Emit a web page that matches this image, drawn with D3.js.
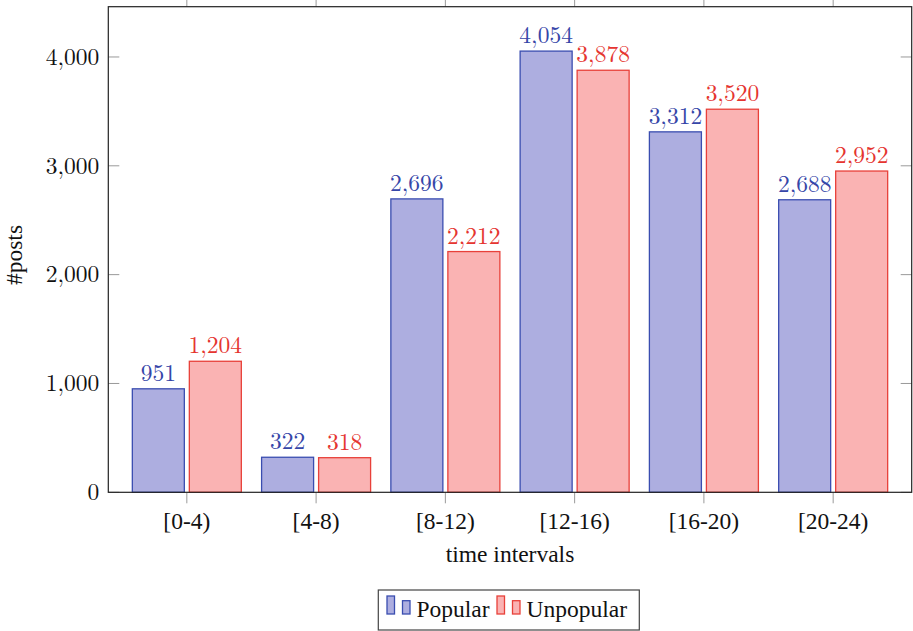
<!DOCTYPE html>
<html>
<head>
<meta charset="utf-8">
<script src="https://cdn.jsdelivr.net/npm/d3@7"></script>
</head>
<body style="margin:0;background:#fff">
<svg id="chart" width="913" height="631" style="display:block"></svg>
<script>
// ---- data ----
const categories = ["[0-4)", "[4-8)", "[8-12)", "[12-16)", "[16-20)", "[20-24)"];
const popular = [951, 322, 2696, 4054, 3312, 2688];
const unpopular = [1204, 318, 2212, 3878, 3520, 2952];
const seriesNames = ["Popular", "Unpopular"];
const yTicks = [0, 1000, 2000, 3000, 4000];
const xLabel = "time intervals";
const yLabel = "#posts";

// ---- layout ----
const plot = { left: 108.3, right: 911.7, top: 6.7, bottom: 492.3 };
const yMax = 4462;
const numFont = "'Latin Modern Roman', 'Liberation Serif', serif";
const txtFont = "'Liberation Serif', 'Times New Roman', Tinos, Times, serif";
const numSize = 23.5;
const txtSize = 23.5;

const colors = {
  Popular:   { fill: "#adaee0", stroke: "#3a4db0", text: "#3646a8" },
  Unpopular: { fill: "#fab3b3", stroke: "#e8413a", text: "#e53530" }
};

const svg = d3.select("#chart");

const x = d3.scaleLinear()
  .domain([-0.6075, categories.length - 1 + 0.6075])
  .range([plot.left, plot.right]);
const y = d3.scaleLinear().domain([0, yMax]).range([plot.bottom, plot.top]);

const barW = 52;
const barOff = 28.5;

const fmt = d3.format(",");

const tickColor = "#9a9a9a";
const gT = svg.append("g");
yTicks.forEach(v => {
  gT.append("line").attr("x1", plot.left).attr("x2", plot.left + 11)
    .attr("y1", y(v)).attr("y2", y(v)).attr("stroke", tickColor).attr("stroke-width", 1);
  gT.append("line").attr("x1", plot.right - 11).attr("x2", plot.right)
    .attr("y1", y(v)).attr("y2", y(v)).attr("stroke", tickColor).attr("stroke-width", 1);
});
categories.forEach((c, i) => {
  gT.append("line").attr("x1", x(i)).attr("x2", x(i))
    .attr("y1", plot.bottom).attr("y2", plot.bottom + 11).attr("stroke", tickColor).attr("stroke-width", 1);
  gT.append("line").attr("x1", x(i)).attr("x2", x(i))
    .attr("y1", plot.top - 11).attr("y2", plot.top).attr("stroke", tickColor).attr("stroke-width", 1);
});

const series = [
  { name: "Popular", values: popular, dir: -1 },
  { name: "Unpopular", values: unpopular, dir: 1 }
];
series.forEach(s => {
  const g = svg.append("g");
  s.values.forEach((v, i) => {
    const cx = x(i) + s.dir * barOff;
    g.append("rect")
      .attr("x", cx - barW / 2).attr("width", barW)
      .attr("y", y(v)).attr("height", y(0) - y(v))
      .attr("fill", colors[s.name].fill)
      .attr("stroke", colors[s.name].stroke).attr("stroke-width", 1.3);
    g.append("text")
      .attr("x", cx).attr("y", y(v) - 8)
      .attr("text-anchor", "middle")
      .style("font-family", numFont)
      .style("font-size", numSize + "px")
      .attr("fill", colors[s.name].text)
      .text(fmt(v));
  });
});

svg.append("rect")
  .attr("x", plot.left).attr("y", plot.top)
  .attr("width", plot.right - plot.left).attr("height", plot.bottom - plot.top)
  .attr("fill", "none").attr("stroke", "#222").attr("stroke-width", 1.2);

yTicks.forEach(v => {
  svg.append("text")
    .attr("x", plot.left - 9).attr("y", y(v)).attr("dy", "0.33em")
    .attr("text-anchor", "end")
    .style("font-family", numFont).style("font-size", numSize + "px")
    .attr("fill", "#111")
    .text(fmt(v));
});
categories.forEach((c, i) => {
  svg.append("text")
    .attr("x", x(i)).attr("y", 529)
    .attr("text-anchor", "middle")
    .style("font-family", txtFont).style("font-size", txtSize + "px")
    .attr("fill", "#111")
    .text(c);
});
svg.append("text")
  .attr("x", (plot.left + plot.right) / 2).attr("y", 562)
  .attr("text-anchor", "middle")
  .style("font-family", txtFont).style("font-size", txtSize + "px")
  .attr("fill", "#111")
  .text(xLabel);
svg.append("text")
  .attr("transform", `translate(22,255) rotate(-90)`)
  .attr("text-anchor", "middle")
  .style("font-family", txtFont).style("font-size", txtSize + "px")
  .attr("fill", "#111")
  .text(yLabel);

const lg = svg.append("g");
lg.append("rect").attr("x", 378.3).attr("y", 590).attr("width", 261).attr("height", 40)
  .attr("fill", "#fff").attr("stroke", "#444").attr("stroke-width", 1.2);
const legendItems = [
  { name: seriesNames[0], x0: 387 },
  { name: seriesNames[1], x0: 497 }
];
legendItems.forEach(it => {
  const c = colors[it.name];
  lg.append("rect").attr("x", it.x0).attr("y", 596).attr("width", 7.5).attr("height", 18)
    .attr("fill", c.fill).attr("stroke", c.stroke).attr("stroke-width", 1.3);
  lg.append("rect").attr("x", it.x0 + 15.5).attr("y", 600.7).attr("width", 7.5).attr("height", 13.3)
    .attr("fill", c.fill).attr("stroke", c.stroke).attr("stroke-width", 1.3);
  lg.append("text").attr("x", it.x0 + 29.5).attr("y", 616.5)
    .style("font-family", txtFont).style("font-size", txtSize + "px")
    .attr("fill", "#111").text(it.name);
});
</script>
</body>
</html>
